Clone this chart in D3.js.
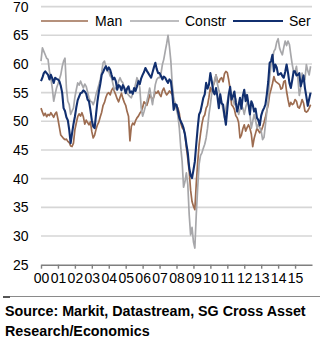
<!DOCTYPE html>
<html><head><meta charset="utf-8">
<script src="https://cdn.jsdelivr.net/npm/d3@7"></script>
<style>html,body{margin:0;padding:0;background:#fff;}svg{display:block;}</style>
</head><body>
<svg id="c" width="322" height="339"></svg>
<script>
const startYear = 2000;
const seriesNames = ["Man", "Constr", "Ser"];
const yTicks = [25, 30, 35, 40, 45, 50, 55, 60, 65, 70];
const xTickLabels = ["00","01","02","03","04","05","06","07","08","09","10","11","12","13","14","15"];

const man = [
52.3,51.6,51.0,51.4,50.8,51.2,51.0,51.5,51.1,50.7,51.3,51.6,
50.4,49.0,47.6,47.3,47.0,46.8,46.9,46.5,46.3,45.7,45.6,46.2,
48.5,49.7,50.8,51.3,50.9,51.5,50.8,49.5,50.2,49.8,49.4,49.9,
48.2,47.1,47.6,48.6,49.4,49.9,50.8,51.6,52.8,53.3,54.2,54.8,
55.0,54.6,55.4,55.8,55.2,54.6,53.9,53.4,54.2,54.9,54.0,53.3,
52.8,51.7,50.9,46.6,49.1,49.7,49.4,50.1,50.6,50.9,51.4,51.7,
52.4,53.4,53.1,52.8,53.6,54.6,54.2,53.7,54.3,55.1,54.9,55.3,
54.7,54.3,55.3,55.8,55.1,54.6,54.9,55.3,55.0,54.7,53.8,53.0,
52.6,52.3,51.4,49.7,48.9,48.6,47.8,45.4,43.5,41.3,38.0,36.0,
35.2,34.6,39.1,42.8,45.9,47.8,49.5,50.7,51.1,52.3,52.8,54.2,
55.9,55.0,56.2,56.9,58.1,57.1,56.8,57.4,57.6,56.9,58.3,58.7,
58.5,57.2,55.6,52.9,52.6,52.1,51.0,50.6,49.8,47.1,47.6,48.7,
49.4,48.3,48.9,49.4,48.8,47.8,45.6,47.0,47.9,48.8,48.4,48.0,
48.3,49.0,49.8,50.7,51.9,52.9,54.7,55.6,56.6,57.8,57.0,56.8,
56.6,56.4,55.6,55.8,56.9,57.1,55.2,53.8,52.6,53.3,52.9,53.1,
53.8,53.5,52.5,52.3,52.9,53.8,53.2,51.8,51.6,51.8,52.3,52.9];

const constr = [
60.5,62.8,62.2,61.6,61.0,60.8,58.7,57.5,55.8,53.5,54.7,55.8,
56.5,57.3,58.1,59.5,60.5,61.0,55.8,53.5,52.9,51.2,51.8,52.3,
54.2,55.5,56.7,56.3,57.0,56.4,55.8,56.5,56.1,55.1,54.1,53.5,
53.4,52.9,53.6,54.7,55.5,56.4,57.3,58.6,60.2,60.5,59.4,58.7,
58.7,57.9,57.6,56.5,55.5,55.8,56.1,57.0,57.6,57.0,56.7,55.9,
55.3,54.9,54.6,54.3,54.1,54.8,55.5,56.5,57.6,57.0,55.8,52.3,
50.9,51.7,52.6,53.5,54.6,55.8,54.3,52.9,54.6,56.4,57.3,57.6,
57.6,58.3,59.9,60.8,62.2,63.5,65.0,63.0,60.5,56.4,54.1,52.9,
52.0,51.0,48.8,45.5,43.0,38.5,39.5,41.0,39.0,33.7,30.2,31.5,
29.0,27.9,33.7,38.4,42.5,44.0,44.5,45.3,46.0,47.1,48.8,51.2,
52.9,54.9,56.2,57.2,58.1,56.5,55.4,54.5,53.2,52.0,50.6,52.3,
53.5,54.5,55.0,54.7,53.8,52.9,53.9,52.4,51.2,52.1,52.8,52.3,
51.2,52.4,53.3,52.9,51.2,48.8,50.0,51.2,50.2,48.8,49.5,48.9,
48.3,46.8,47.2,49.4,51.7,53.8,57.6,59.9,60.8,62.2,62.6,63.8,
64.4,62.8,62.1,61.6,62.9,64.0,63.2,64.0,63.4,61.6,59.9,58.6,
58.7,59.6,57.5,54.5,55.8,58.4,57.0,57.3,59.9,58.8,58.1,59.6];

const ser = [
57.0,57.6,58.4,58.7,58.4,58.1,57.3,58.1,57.5,56.7,57.6,57.4,
57.3,57.0,56.2,55.0,52.3,51.8,50.7,50.2,48.5,46.2,47.9,49.5,
50.8,52.4,53.7,54.3,54.9,55.0,55.4,55.2,54.8,53.8,53.5,52.0,
50.2,49.1,48.8,51.2,53.5,55.2,56.5,58.1,58.6,59.2,59.6,58.9,
59.4,59.0,58.1,57.3,57.6,57.0,55.5,56.3,56.1,55.4,56.3,55.8,
54.9,55.7,56.1,55.0,55.2,54.8,55.8,55.3,56.1,57.0,56.5,57.5,
58.1,58.6,59.3,58.8,58.4,58.0,57.6,58.5,59.4,60.2,59.1,58.4,
58.4,57.9,57.3,57.8,57.6,57.1,56.7,57.3,57.0,55.0,52.0,53.0,
52.9,51.8,50.6,50.0,49.5,48.8,47.7,46.0,44.5,41.9,40.6,40.1,
41.5,43.0,46.0,48.8,51.2,51.7,52.9,54.1,54.7,56.7,55.7,56.4,
58.4,57.0,55.2,54.7,55.8,54.3,52.3,54.7,53.1,52.9,51.0,49.4,
52.1,54.7,56.0,53.8,54.3,55.2,53.3,51.7,52.8,54.1,52.2,54.4,
55.5,53.5,54.6,53.0,51.2,53.5,52.9,51.7,52.2,50.6,50.2,49.3,
51.0,51.8,52.3,52.9,54.7,56.9,60.2,60.5,61.6,58.7,59.9,59.4,
58.1,58.2,58.4,57.9,57.6,58.6,59.9,58.5,56.7,55.8,57.2,58.7,
58.7,58.0,58.1,58.4,56.1,57.0,58.0,55.8,54.3,52.7,53.9,55.0];

const colors = ["#9d6c50", "#a7a7aa", "#112f6f"];
const widths = [1.7, 1.7, 2.1];

const svg = d3.select("#c");
const x = d3.scaleLinear().domain([2000, 2016]).range([41, 312]);
const y = d3.scaleLinear().domain([25, 70]).range([264.7, 6.6]);
const font = "'Liberation Sans', Arial, sans-serif";

// gridlines
svg.append("g").selectAll("line").data(yTicks.filter(d => d > 25)).join("line")
  .attr("x1", x(2000)).attr("x2", x(2016))
  .attr("y1", d => y(d)).attr("y2", d => y(d))
  .attr("stroke", "#d6d6d6").attr("stroke-width", 1.6);

// y labels
svg.append("g").selectAll("text").data(yTicks).join("text")
  .attr("x", 28.5).attr("y", d => y(d) + 5)
  .attr("text-anchor", "end")
  .attr("font-family", font).attr("font-size", 14)
  .attr("fill", "#000").text(d => d);

// x axis
const xAxis = d3.axisBottom(x)
  .tickValues(d3.range(2000, 2016))
  .tickFormat((d, i) => xTickLabels[i])
  .tickSize(4).tickSizeOuter(0);
const gx = svg.append("g").attr("transform", `translate(0,${y(25)})`).call(xAxis);
gx.select(".domain").attr("stroke", "#7f7f7f").attr("stroke-width", 1.6);
gx.selectAll(".tick line").attr("stroke", "#7f7f7f").attr("stroke-width", 1.4);
gx.selectAll(".tick text").attr("font-family", font).attr("font-size", 14)
  .attr("fill", "#000").attr("dy", "0.85em").attr("y", 6);

// lines
const allSeries = [man, constr, ser];
const line = d3.line().x((d, i) => x(startYear + i / 12)).y(d => y(d));
allSeries.forEach((s, k) => {
  svg.append("path").datum(s)
    .attr("fill", "none").attr("stroke", colors[k])
    .attr("stroke-width", widths[k]).attr("stroke-linejoin", "round")
    .attr("d", line);
});

// legend
const legendPos = [[41, 88, 95], [130, 179, 185], [233, 283, 289]];
const lg = svg.append("g");
lg.append("rect").attr("x", 38).attr("y", 12).attr("width", 276).attr("height", 18).attr("fill", "#fff");
seriesNames.forEach((n, k) => {
  const p = legendPos[k];
  lg.append("line").attr("x1", p[0]).attr("x2", p[1]).attr("y1", 21).attr("y2", 21)
    .attr("stroke", colors[k]).attr("stroke-width", widths[k]);
  lg.append("text").attr("x", p[2]).attr("y", 26)
    .attr("font-family", font).attr("font-size", 14).attr("fill", "#000").text(n);
});

// separator and source
svg.append("line").attr("x1", 3).attr("x2", 320).attr("y1", 296.5).attr("y2", 296.5)
  .attr("stroke", "#8a8a8a").attr("stroke-width", 1);
svg.append("line").attr("x1", 3).attr("x2", 10).attr("y1", 297).attr("y2", 297)
  .attr("stroke", "#555").attr("stroke-width", 2);
svg.append("text").attr("x", 5).attr("y", 316)
  .attr("font-family", font).attr("font-size", 14.3).attr("font-weight", "bold")
  .attr("fill", "#000").text("Source: Markit, Datastream, SG Cross Asset");
svg.append("text").attr("x", 5).attr("y", 336)
  .attr("font-family", font).attr("font-size", 14.3).attr("font-weight", "bold")
  .attr("fill", "#000").text("Research/Economics");
</script>
</body></html>
